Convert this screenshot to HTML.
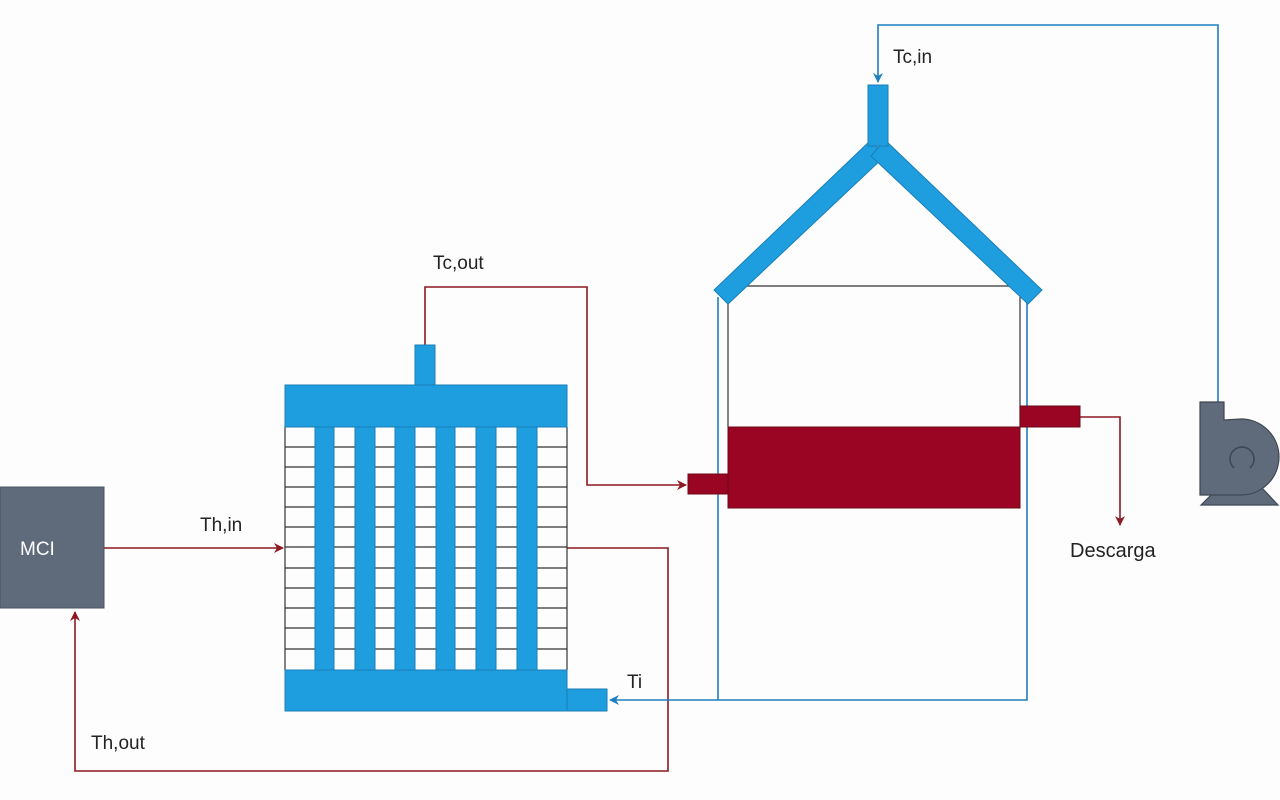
<!DOCTYPE html>
<html><head><style>
html,body{margin:0;padding:0;background:#fff;}
svg{display:block;}
text{font-family:"Liberation Sans",sans-serif;font-size:19px;fill:#222;}
</style></head><body>
<svg width="1280" height="800" viewBox="0 0 1280 800" xmlns="http://www.w3.org/2000/svg">
<defs>
<marker id="ar" markerWidth="10" markerHeight="10" refX="9" refY="5" orient="auto" markerUnits="userSpaceOnUse"><path d="M0,0 L10,5 L0,10 L3,5 Z" fill="#8b1a22"/></marker>
<marker id="ab" markerWidth="10" markerHeight="10" refX="9" refY="5" orient="auto" markerUnits="userSpaceOnUse"><path d="M0,0 L10,5 L0,10 L3,5 Z" fill="#1f7fbf"/></marker>
</defs>
<rect width="1280" height="800" fill="#fdfdfd"/>

<!-- MCI -->
<rect x="0" y="487" width="104" height="121" fill="#5f6b7a" stroke="#4a5563"/>
<text x="20" y="555" fill="#fff" style="fill:#fff">MCI</text>

<!-- hot loops -->
<g fill="none" stroke="#8b1a22" stroke-width="1.6">
<path d="M104,548 L283,548" marker-end="url(#ar)"/>
<path d="M567,548 L668,548 L668,771 L75,771 L75,612" marker-end="url(#ar)"/>
<path d="M425,345 L425,287 L587,287 L587,485 L686,485" marker-end="url(#ar)"/>
<path d="M1080,417 L1120,417 L1120,525" marker-end="url(#ar)"/>
</g>
<text x="200" y="531">Th,in</text>
<text x="91" y="749">Th,out</text>
<text x="433" y="269">Tc,out</text>
<text x="1070" y="557" style="font-size:20px">Descarga</text>
<text x="627" y="688">Ti</text>
<text x="893" y="63">Tc,in</text>

<!-- heat exchanger grid -->
<g stroke="#333" stroke-width="1.2">
<line x1="285" y1="427" x2="285" y2="670"/>
<line x1="567" y1="427" x2="567" y2="670"/>
<line x1="285" y1="447" x2="567" y2="447"/>
<line x1="285" y1="467" x2="567" y2="467"/>
<line x1="285" y1="487" x2="567" y2="487"/>
<line x1="285" y1="507" x2="567" y2="507"/>
<line x1="285" y1="527" x2="567" y2="527"/>
<line x1="285" y1="547" x2="567" y2="547"/>
<line x1="285" y1="568" x2="567" y2="568"/>
<line x1="285" y1="588" x2="567" y2="588"/>
<line x1="285" y1="608" x2="567" y2="608"/>
<line x1="285" y1="628" x2="567" y2="628"/>
<line x1="285" y1="649" x2="567" y2="649"/>
</g>
<g fill="#1e9ede" stroke="#1a7fb8" stroke-width="1">
<rect x="315" y="427" width="19" height="243"/>
<rect x="355" y="427" width="20" height="243"/>
<rect x="395" y="427" width="20" height="243"/>
<rect x="436" y="427" width="19" height="243"/>
<rect x="476" y="427" width="20" height="243"/>
<rect x="517" y="427" width="20" height="243"/>
<rect x="285" y="385" width="282" height="42"/>
<rect x="415" y="345" width="20" height="40"/>
<rect x="285" y="670" width="282" height="41"/>
<rect x="567" y="689" width="40" height="22"/>
</g>

<!-- tower -->
<g stroke="#1f7fbf" stroke-width="1.6" fill="none">
<path d="M718,297 L718,700"/>
<path d="M1027,297 L1027,700 L610,700" marker-end="url(#ab)"/>
<path d="M1218,402 L1218,25 L878,25 L878,82" marker-end="url(#ab)"/>
</g>
<g stroke="#333" stroke-width="1.2">
<line x1="745" y1="286" x2="1010" y2="286"/>
<line x1="728" y1="297" x2="728" y2="427"/>
<line x1="1020" y1="297" x2="1020" y2="427"/>
</g>
<g fill="#1e9ede" stroke="#1a7fb8" stroke-width="1">
<polygon points="871,140 885,156 728,304 714,290"/>
<polygon points="871,156 885,140 1042,290 1028,304"/>
<rect x="868" y="85" width="20" height="61"/>
</g>
<g fill="#9b0524" stroke="#6a0a16" stroke-width="1">
<rect x="728" y="427" width="292" height="81"/>
<rect x="688" y="474" width="40" height="20"/>
<rect x="1020" y="406" width="60" height="21"/>
</g>

<!-- pump -->
<g fill="#5f6b7a" stroke="#3e4753" stroke-width="1.2">
<path d="M1218,488 L1201,505 L1278,505 L1262,488 Z"/>
<path d="M1200,402 L1224,402 L1224,420 L1241,419 A38,38 0 1 1 1241,495 L1200,495 Z"/>
</g>
<path d="M1234,468 A12,12 0 1 1 1250,468" fill="none" stroke="#3e4753" stroke-width="1.6"/>
</svg>
</body></html>
